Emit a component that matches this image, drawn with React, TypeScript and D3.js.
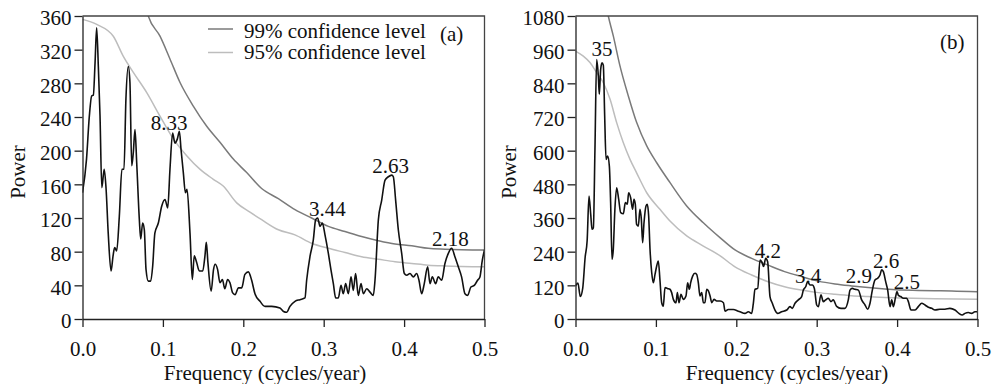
import * as d3 from "d3";
import { useEffect, useRef } from "react";

// ---- panel (a) ----
const freqA = [0, 0.005, 0.0085, 0.0114, 0.0135, 0.0156, 0.0176, 0.0197, 0.0218, 0.024, 0.027, 0.0293, 0.032, 0.0355, 0.038, 0.04, 0.0425, 0.0458, 0.049, 0.0516, 0.054, 0.057, 0.059, 0.0612, 0.0632, 0.0653, 0.0674, 0.0707, 0.0724, 0.0748, 0.0769, 0.079, 0.0819, 0.0848, 0.0873, 0.09, 0.0943, 0.0985, 0.1026, 0.106, 0.1088, 0.1121, 0.115, 0.118, 0.1205, 0.1225, 0.1254, 0.128, 0.13, 0.1337, 0.1366, 0.139, 0.142, 0.1453, 0.1495, 0.1523, 0.154, 0.156, 0.16, 0.163, 0.165, 0.168, 0.171, 0.174, 0.177, 0.1805, 0.1834, 0.1868, 0.1897, 0.194, 0.198, 0.202, 0.2063, 0.2104, 0.2145, 0.2208, 0.227, 0.2353, 0.2456, 0.25, 0.2539, 0.258, 0.2643, 0.2705, 0.2767, 0.2788, 0.2829, 0.2871, 0.29, 0.2925, 0.2954, 0.2983, 0.3016, 0.3058, 0.3091, 0.312, 0.3149, 0.3182, 0.3215, 0.3244, 0.3273, 0.3306, 0.334, 0.3368, 0.3397, 0.343, 0.3464, 0.3493, 0.3535, 0.3576, 0.3617, 0.3638, 0.368, 0.3721, 0.3763, 0.3804, 0.3846, 0.3866, 0.3895, 0.3928, 0.397, 0.4003, 0.4032, 0.4073, 0.4115, 0.4156, 0.4185, 0.4218, 0.4251, 0.4293, 0.4322, 0.4351, 0.4392, 0.4425, 0.4467, 0.4508, 0.455, 0.4591, 0.4632, 0.4674, 0.4715, 0.4757, 0.479, 0.4831, 0.4873, 0.4914, 0.4943, 0.4973, 0.5];
const powerA = [150, 190, 241, 265, 266, 304, 346, 300, 241, 156, 178, 155, 102, 57, 75, 85, 81, 122, 178, 178, 261, 300, 281, 182, 198, 225, 186, 118, 95, 114, 106, 59, 45, 45, 63, 102, 114, 134, 142, 132, 178, 221, 209, 214, 223, 202, 174, 150, 154, 102, 47, 75, 67, 57, 57, 75, 91, 67, 33, 59, 65, 59, 43, 47, 36, 47, 43, 31, 29, 37, 37, 53, 56, 46, 30, 21, 15, 15, 13, 9, 8, 15, 21, 23, 25, 46, 74, 94, 118, 120, 110, 114, 100, 78, 58, 42, 25, 25, 40, 30, 42, 30, 50, 34, 54, 28, 42, 30, 36, 32, 28, 46, 118, 141, 165, 169, 171, 169, 141, 106, 78, 54, 52, 54, 50, 54, 46, 30, 42, 62, 42, 50, 42, 50, 46, 66, 78, 84, 74, 62, 50, 30, 28, 38, 40, 46, 50, 70, 82];

const c99FreqA = [0.075, 0.0818, 0.0964, 0.1088, 0.1213, 0.1378, 0.1545, 0.171, 0.1876, 0.2042, 0.2228, 0.2436, 0.2643, 0.285, 0.3058, 0.3265, 0.3472, 0.368, 0.3887, 0.4095, 0.43, 0.451, 0.5];
const c99A = [385, 360, 336, 309, 281, 253, 229, 210, 190, 174, 155, 143, 130, 120, 110, 104, 98, 93, 89, 87, 84, 83, 82];
const c95FreqA = [0, 0.0177, 0.0383, 0.0508, 0.0632, 0.0799, 0.0964, 0.113, 0.1296, 0.146, 0.1627, 0.175, 0.1918, 0.2083, 0.2228, 0.2436, 0.2643, 0.285, 0.3058, 0.3265, 0.3472, 0.368, 0.3887, 0.4095, 0.43, 0.451, 0.5];
const c95A = [356, 350, 336, 312, 293, 269, 241, 214, 194, 178, 166, 158, 138, 127, 118, 106, 100, 90, 84, 79, 74, 71, 68, 66, 64, 63, 62];

const peakTextA = ["8.33", "3.44", "2.63", "2.18"];
const peakFreqA = [0.1076, 0.3047, 0.3831, 0.4577];
const peakPowerA = [224, 122, 173, 87];

// ---- panel (b) ----
const freqB = [0, 0.003, 0.006, 0.009, 0.012, 0.0145, 0.0168, 0.019, 0.0205, 0.0222, 0.0242, 0.0263, 0.0284, 0.0296, 0.0313, 0.033, 0.0346, 0.0363, 0.038, 0.04, 0.0421, 0.0437, 0.0454, 0.047, 0.049, 0.0512, 0.0537, 0.0562, 0.0595, 0.062, 0.0645, 0.0661, 0.0686, 0.071, 0.0727, 0.0744, 0.076, 0.0781, 0.0802, 0.0819, 0.0835, 0.0852, 0.0877, 0.0893, 0.091, 0.0927, 0.0948, 0.0968, 0.0989, 0.101, 0.103, 0.105, 0.1072, 0.1092, 0.1113, 0.1142, 0.1175, 0.1196, 0.1217, 0.125, 0.1267, 0.1287, 0.1312, 0.134, 0.1374, 0.1395, 0.1416, 0.1432, 0.1457, 0.1486, 0.1507, 0.1528, 0.1548, 0.157, 0.159, 0.161, 0.1632, 0.1653, 0.1674, 0.1695, 0.1723, 0.1756, 0.1798, 0.184, 0.186, 0.19, 0.1963, 0.2025, 0.2046, 0.2108, 0.215, 0.2191, 0.2212, 0.2233, 0.2266, 0.2295, 0.2316, 0.234, 0.2365, 0.239, 0.2419, 0.2448, 0.2481, 0.2514, 0.2564, 0.2627, 0.2668, 0.2697, 0.273, 0.2771, 0.2813, 0.2834, 0.2863, 0.2887, 0.2917, 0.2946, 0.2971, 0.3, 0.302, 0.3053, 0.3082, 0.3111, 0.3144, 0.3177, 0.3206, 0.3248, 0.3302, 0.3351, 0.3393, 0.3414, 0.3443, 0.3476, 0.3518, 0.3559, 0.3601, 0.3634, 0.3663, 0.3692, 0.3725, 0.3758, 0.3787, 0.3808, 0.3829, 0.3858, 0.3883, 0.3912, 0.3933, 0.3954, 0.3982, 0.3999, 0.4016, 0.4045, 0.4078, 0.4119, 0.414, 0.4173, 0.4223, 0.4264, 0.4306, 0.4347, 0.4389, 0.443, 0.4471, 0.4533, 0.4595, 0.4657, 0.472, 0.4769, 0.481, 0.4844, 0.4886, 0.4927, 0.4968, 0.5];
const powerB = [118, 128, 80, 110, 220, 280, 438, 370, 320, 325, 605, 925, 866, 801, 890, 913, 905, 723, 569, 581, 545, 415, 213, 248, 391, 468, 427, 379, 375, 415, 409, 450, 432, 391, 427, 409, 337, 331, 391, 355, 272, 343, 403, 409, 367, 248, 165, 129, 159, 189, 207, 141, 58, 46, 112, 109, 106, 94, 70, 58, 94, 58, 88, 70, 82, 129, 106, 129, 153, 163, 159, 129, 82, 94, 58, 58, 106, 100, 82, 58, 70, 64, 64, 58, 28, 34, 34, 28, 26, 20, 26, 20, 56, 106, 109, 210, 204, 187, 216, 204, 80, 56, 32, 20, 26, 32, 44, 38, 56, 68, 80, 103, 115, 133, 121, 121, 109, 50, 44, 86, 62, 68, 74, 62, 68, 45, 38, 38, 68, 103, 109, 106, 103, 68, 50, 35, 56, 103, 139, 145, 157, 175, 169, 133, 103, 44, 68, 44, 80, 98, 84, 80, 74, 74, 62, 32, 32, 44, 56, 50, 42, 38, 32, 35, 35, 38, 32, 20, 14, 20, 23, 20, 26, 26];

const c99FreqB = [0.036, 0.0408, 0.047, 0.0553, 0.0657, 0.0761, 0.0886, 0.101, 0.1176, 0.1383, 0.159, 0.1797, 0.1984, 0.2191, 0.2396, 0.26, 0.2813, 0.302, 0.3227, 0.3434, 0.364, 0.3848, 0.4056, 0.4264, 0.447, 0.468, 0.5];
const c99B = [1150, 1080, 1009, 902, 795, 700, 617, 557, 486, 403, 343, 290, 246, 216, 192, 169, 151, 135, 125, 118, 112, 107, 103, 102, 101, 100, 97];
const c95FreqB = [0, 0.0097, 0.018, 0.0263, 0.0346, 0.043, 0.0512, 0.0595, 0.0678, 0.076, 0.0886, 0.105, 0.1175, 0.1383, 0.159, 0.18, 0.1984, 0.2191, 0.2396, 0.26, 0.2813, 0.302, 0.3227, 0.3434, 0.364, 0.3848, 0.4056, 0.447, 0.5];
const c95B = [955, 937, 914, 878, 842, 783, 700, 628, 569, 521, 450, 391, 349, 296, 260, 225, 186, 157, 133, 115, 103, 94, 88, 83, 80, 77, 75, 72, 70];

const peakTextB = ["35", "4.2", "3.4", "2.9", "2.6", "2.5"];
const peakFreqB = [0.033, 0.2394, 0.2892, 0.3526, 0.3862, 0.4123];
const peakPowerB = [937, 217, 128, 128, 182, 107];

const xTicks = [0, 0.1, 0.2, 0.3, 0.4, 0.5];
const yTicksA = [0, 40, 80, 120, 160, 200, 240, 280, 320, 360];
const yTicksB = [0, 120, 240, 360, 480, 600, 720, 840, 960, 1080];
const legendLabels = ["99% confidence level", "95% confidence level"];

const FONT = "'Liberation Serif', 'Times New Roman', serif";
const C99 = "#7a7a7a";
const C95 = "#bdbdbd";

const drawPanel = (svg, o) => {
  const top = 16,
    bottom = 319;
  const x = d3.scaleLinear().domain([0, 0.5]).range([o.left, o.right]);
  const y = d3.scaleLinear().domain([0, o.yMax]).range([bottom, top]);

  svg
    .append("clipPath")
    .attr("id", o.id)
    .append("rect")
    .attr("x", o.left)
    .attr("y", top)
    .attr("width", o.right - o.left)
    .attr("height", bottom - top);

  const line = d3
    .line()
    .x((d) => x(d[0]))
    .y((d) => y(d[1]))
    .curve(d3.curveMonotoneX);

  const g = svg.append("g").attr("clip-path", `url(#${o.id})`);
  g.append("path")
    .datum(o.c95f.map((f, i) => [f, o.c95[i]]))
    .attr("d", line)
    .attr("fill", "none")
    .attr("stroke", C95)
    .attr("stroke-width", 1.5);
  g.append("path")
    .datum(o.c99f.map((f, i) => [f, o.c99[i]]))
    .attr("d", line)
    .attr("fill", "none")
    .attr("stroke", C99)
    .attr("stroke-width", 1.5);
  g.append("path")
    .datum(o.freq.map((f, i) => [f, o.power[i]]))
    .attr("d", line)
    .attr("fill", "none")
    .attr("stroke", "#111")
    .attr("stroke-width", 1.6)
    .attr("stroke-linejoin", "round");

  // frame top/right
  svg
    .append("path")
    .attr("d", `M${o.left},${top}H${o.right}V${bottom}`)
    .attr("fill", "none")
    .attr("stroke", "#444")
    .attr("stroke-width", 1.3);

  const yAxis = svg
    .append("g")
    .attr("transform", `translate(${o.left},0)`)
    .call(
      d3
        .axisLeft(y)
        .tickValues(o.yTicks)
        .tickFormat(d3.format("d"))
        .tickSize(8)
        .tickPadding(3)
        .tickSizeOuter(0)
    );
  const xAxis = svg
    .append("g")
    .attr("transform", `translate(0,${bottom})`)
    .call(
      d3
        .axisBottom(x)
        .tickValues(xTicks)
        .tickFormat(d3.format(".1f"))
        .tickSize(8)
        .tickPadding(14)
        .tickSizeOuter(0)
    );
  [yAxis, xAxis].forEach((a) => {
    a.attr("font-family", FONT).attr("font-size", 21);
    a.selectAll("path, line").attr("stroke", "#222").attr("stroke-width", 1.3);
    a.selectAll("text").attr("fill", "#111");
  });
  yAxis.selectAll("text").attr("dy", "0.42em");

  svg
    .append("text")
    .attr("transform", `translate(${o.powerX},172) rotate(-90)`)
    .attr("text-anchor", "middle")
    .attr("font-family", FONT)
    .attr("font-size", 21)
    .attr("fill", "#111")
    .text("Power");
  svg
    .append("text")
    .attr("x", o.xLabelX)
    .attr("y", 380)
    .attr("text-anchor", "middle")
    .attr("font-family", FONT)
    .attr("font-size", 21)
    .attr("fill", "#111")
    .text("Frequency (cycles/year)");

  svg
    .selectAll(null)
    .data(o.peakText)
    .join("text")
    .attr("x", (d, i) => x(o.peakFreq[i]))
    .attr("y", (d, i) => y(o.peakPower[i]))
    .attr("text-anchor", "middle")
    .attr("font-family", FONT)
    .attr("font-size", 21)
    .attr("fill", "#111")
    .text((d) => d);

  svg
    .append("text")
    .attr("x", o.tagX)
    .attr("y", o.tagY)
    .attr("font-family", FONT)
    .attr("font-size", 21)
    .attr("fill", "#111")
    .text(o.tag);
};

const App = () => {
  const ref = useRef(null);

  useEffect(() => {
    const svg = d3.select(ref.current);
    svg.selectAll("*").remove();

    drawPanel(svg, {
      id: "clipA",
      left: 82.5,
      right: 484.5,
      yMax: 360,
      yTicks: yTicksA,
      freq: freqA,
      power: powerA,
      c99f: c99FreqA,
      c99: c99A,
      c95f: c95FreqA,
      c95: c95A,
      peakText: peakTextA,
      peakFreq: peakFreqA,
      peakPower: peakPowerA,
      powerX: 25,
      xLabelX: 265,
      tag: "(a)",
      tagX: 440,
      tagY: 41,
    });
    drawPanel(svg, {
      id: "clipB",
      left: 575.5,
      right: 977.5,
      yMax: 1080,
      yTicks: yTicksB,
      freq: freqB,
      power: powerB,
      c99f: c99FreqB,
      c99: c99B,
      c95f: c95FreqB,
      c95: c95B,
      peakText: peakTextB,
      peakFreq: peakFreqB,
      peakPower: peakPowerB,
      powerX: 516,
      xLabelX: 787,
      tag: "(b)",
      tagX: 940,
      tagY: 49,
    });

    // legend (panel a)
    const leg = svg.append("g");
    [C99, C95].forEach((c, i) => {
      const ly = i === 0 ? 29 : 52.5;
      leg
        .append("line")
        .attr("x1", 208)
        .attr("x2", 233)
        .attr("y1", ly)
        .attr("y2", ly)
        .attr("stroke", c)
        .attr("stroke-width", 1.5);
      leg
        .append("text")
        .attr("x", 244)
        .attr("y", i === 0 ? 38 : 59)
        .attr("font-family", FONT)
        .attr("font-size", 21)
        .attr("fill", "#111")
        .text(legendLabels[i]);
    });
  }, []);

  return (
    <svg
      ref={ref}
      width={993}
      height={384}
      style={{ position: "absolute", left: 0, top: 0, background: "#fff" }}
    />
  );
};

export default App;
